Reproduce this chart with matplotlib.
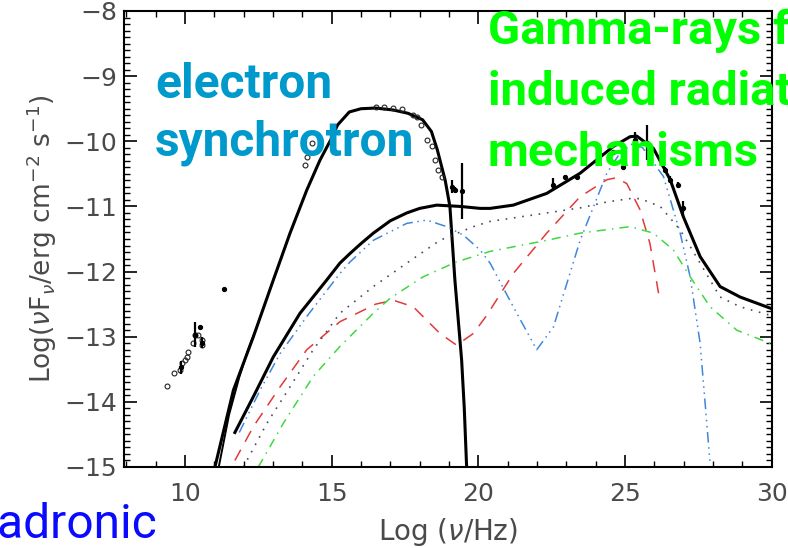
### IMPORTS ###

import matplotlib
matplotlib.use('Agg')
import matplotlib.pyplot as plt
from matplotlib.ticker import MultipleLocator

### DATA ###

# Electron synchrotron (solid):
sync_x = [11.02, 11.65, 12.33, 13.01, 13.58, 14.15, 14.6, 15.0, 15.2, 15.6, 16.0, 16.5,
          17.1, 17.6, 18.1, 18.4, 18.6, 18.87, 19.03, 19.2, 19.43, 19.52, 19.6]
sync_y = [-15.0, -13.82, -13.0, -12.13, -11.41, -10.75, -10.29, -9.95, -9.75, -9.55, -9.5, -9.49,
          -9.52, -9.57, -9.67, -9.85, -10.13, -10.6, -11.0, -12.13, -13.36, -14.1, -15.0]

# Second synchrotron trace at the low end:
sync2_x = [11.15, 11.5, 11.85, 12.15, 12.45]
sync2_y = [-15.0, -14.2, -13.62, -13.2, -12.85]

# Total hadronic model (solid):
tot_x = [11.7, 12.33, 13.01, 13.92, 14.83, 15.28, 15.63, 16.0, 16.42, 17.0, 17.56, 18.0,
         18.58, 19.38, 20.06, 20.4, 21.19, 22.33, 23.47, 24.6, 25.17, 25.4, 25.97, 26.54,
         26.99, 27.56, 28.24, 28.92, 29.94, 30.0]
tot_y = [-14.47, -13.92, -13.31, -12.64, -12.13, -11.87, -11.72, -11.57, -11.41, -11.22, -11.1, -11.03,
         -10.98, -11.0, -11.03, -11.03, -10.98, -10.8, -10.49, -10.08, -9.93, -9.92, -10.11, -10.59,
         -11.16, -11.77, -12.23, -12.39, -12.56, -12.57]

# Blue dash-dot-dot component:
blue_x = [11.85, 12.56, 13.24, 14.15, 15.28, 15.63, 16.42, 17.56, 18.24, 18.92, 19.49, 20.06,
          20.4, 21.19, 21.99, 22.56, 23.47, 24.38, 24.83, 25.28, 25.6, 26.31, 26.88, 27.22,
          27.56, 27.9]
blue_y = [-14.47, -13.82, -13.26, -12.69, -12.03, -11.85, -11.52, -11.26, -11.21, -11.31, -11.44, -11.67,
          -11.87, -12.54, -13.2, -12.85, -11.52, -10.49, -10.18, -10.03, -10.1, -10.54, -11.41, -12.08,
          -13.1, -14.94]

# Red dashed component:
red_x = [11.7, 12.33, 13.24, 14.15, 15.28, 15.96, 16.5, 17.1, 17.78, 18.69, 19.26, 19.83,
         20.29, 21.19, 22.33, 23.47, 24.38, 24.7, 25.06, 25.51, 25.85, 26.15]
red_y = [-14.9, -14.38, -13.77, -13.2, -12.77, -12.62, -12.5, -12.44, -12.54, -12.95, -13.13, -12.95,
         -12.67, -12.03, -11.41, -10.85, -10.59, -10.56, -10.65, -11.05, -11.57, -12.35]

# Dotted component:
dot_x = [11.99, 12.79, 13.58, 14.37, 15.28, 16.42, 17.56, 18.69, 19.83, 20.4, 22.33, 23.5,
         24.4, 25.17, 25.51, 26.2, 26.88, 27.56, 28.24, 28.92, 29.94, 30.0]
dot_y = [-15.0, -14.33, -13.77, -13.2, -12.64, -12.23, -11.87, -11.52, -11.31, -11.23, -11.1, -11.02,
         -10.93, -10.88, -10.88, -11.0, -11.36, -11.87, -12.39, -12.54, -12.67, -12.68]

# Green dash-dot component:
grn_x = [12.5, 13.35, 14.37, 15.28, 16.42, 16.99, 18.12, 19.26, 20.4, 22.33, 23.47, 25.17,
         25.97, 26.65, 27.22, 27.9, 28.81, 29.94, 30.0]
grn_y = [-15.0, -14.33, -13.61, -13.15, -12.64, -12.41, -12.08, -11.85, -11.69, -11.52, -11.41, -11.31,
         -11.41, -11.67, -12.08, -12.54, -12.9, -13.1, -13.1]

# Observed points (open circles):
obs_x = [9.38, 9.62, 9.83, 9.89, 10.0, 10.08, 10.11, 10.28, 10.34, 10.45, 10.57, 10.57,
         14.09, 14.15, 14.32,
         16.5, 16.8, 17.1, 17.4, 17.77, 17.9, 18.05, 18.24, 18.41, 18.52, 18.64, 18.75]
obs_y = [-13.76, -13.56, -13.51, -13.41, -13.35, -13.31, -13.23, -13.1, -12.97, -12.97, -13.05, -13.13,
         -10.36, -10.24, -10.03,
         -9.47, -9.48, -9.49, -9.5, -9.6, -9.63, -9.75, -9.98, -10.08, -10.29, -10.44, -10.55]

# Measured points with error bars (filled):
err_x = [9.87, 10.34, 10.51, 10.57, 11.33, 19.09, 19.2, 19.43,
         22.55, 22.95, 23.35, 24.03, 24.6, 24.94, 25.34, 25.74, 26.37, 26.54, 26.82, 26.99]
err_y = [-13.47, -12.97, -12.85, -13.09, -12.26, -10.7, -10.75, -10.77,
         -10.67, -10.55, -10.55, -10.3, -10.16, -10.39, -9.98, -10.02, -10.44, -10.59, -10.67, -11.03]
err_dy = [0.1, 0.19, 0.0, 0.08, 0.0, 0.1, 0.05, 0.43,
          0.1, 0.03, 0.03, 0.03, 0.03, 0.03, 0.12, 0.27, 0.05, 0.05, 0.05, 0.12]

# Overlay labels:
elec_lines = ['electron', 'synchrotron']
gamma_lines = ['Gamma-rays from', 'induced radiation', 'mechanisms']
hadr_label = 'Hadronic'

### PLOTTING ###

W, H = 788, 548
fig = plt.figure(figsize=(W / 100, H / 100), dpi=100)
ax = fig.add_axes([124 / W, 1 - 467 / H, (771.7 - 124) / W, 456 / H])

# Model curves:
ax.plot(sync_x, sync_y, color='black', lw=2.2, solid_joinstyle='round')
ax.plot(sync2_x, sync2_y, color='black', lw=1.4)
ax.plot(tot_x, tot_y, color='black', lw=2.2, solid_joinstyle='round')
ax.plot(blue_x, blue_y, color='#3f86dd', lw=1.1, ls=(0, (7, 3, 1, 3, 1, 3, 1, 3)))
ax.plot(red_x, red_y, color='#e23a3a', lw=1.1, ls=(0, (8, 6)))
ax.plot(dot_x, dot_y, color='#4a4a66', lw=1.2, ls=(0, (1, 4)))
ax.plot(grn_x, grn_y, color='#3fd83f', lw=1.1, ls=(0, (6, 4, 1, 4)))

# Observations:
ax.plot(obs_x, obs_y, 'o', ms=3.5, mfc='none', mec='#222222', mew=0.8)
ax.errorbar(err_x, err_y, yerr=err_dy, fmt='o', ms=2.8, color='black',
            ecolor='black', elinewidth=1.6, capsize=0)

# Axes ranges and ticks:
ax.set_xlim(7.92, 30)
ax.set_ylim(-15, -8)
ax.xaxis.set_major_locator(MultipleLocator(5))
ax.xaxis.set_minor_locator(MultipleLocator(1))
ax.yaxis.set_major_locator(MultipleLocator(1))
ax.yaxis.set_minor_locator(MultipleLocator(0.1))
ax.tick_params(which='both', direction='in', top=True, right=True, color='black')
ax.tick_params(which='major', length=9, width=1.2, labelsize=18, labelcolor='#4a4a4a')
ax.tick_params(which='minor', length=4.5, width=1.0)
ax.tick_params(axis='x', which='major', pad=11)
ax.tick_params(axis='y', which='major', pad=5)
for side in ax.spines.values():
    side.set_linewidth(1.5)

ax.set_xlabel(r'Log ($\nu$/Hz)', fontsize=20, color='#4a4a4a', labelpad=7)
ax.set_ylabel(r'Log($\nu$F$_\nu$/erg cm$^{-2}$ s$^{-1}$)', fontsize=19, color='#4a4a4a', labelpad=4)

# Overlay text:
for i, line in enumerate(elec_lines):
    fig.text(155 / W, 1 - (98 + 57 * i) / H, line, fontsize=34.5, fontweight='bold',
             family='Roboto', color='#0099cc', va='baseline', ha='left')

for i, line in enumerate(gamma_lines):
    fig.text(488 / W, 1 - (44 + 61 * i) / H, line, fontsize=34, fontweight='bold',
             family='Roboto', color='#00ff00', va='baseline', ha='left')

fig.text(157 / W, 1 - 538 / H, hadr_label, fontsize=34.5, family='Roboto',
         color='#0a0aff', va='baseline', ha='right')

fig.savefig('out.png', dpi=100)
